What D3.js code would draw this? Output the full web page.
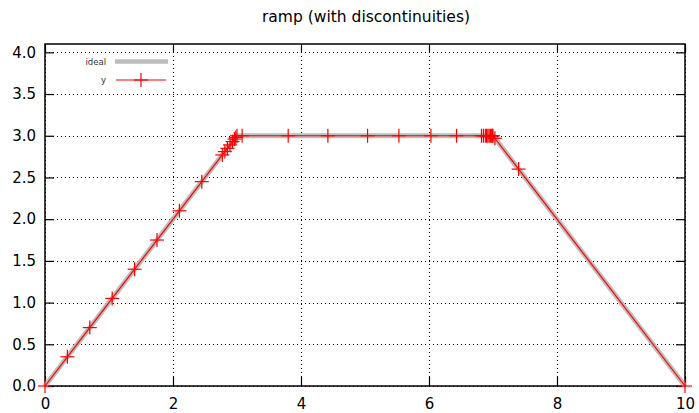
<!DOCTYPE html>
<html>
<head>
<meta charset="utf-8">
<script src="https://cdn.jsdelivr.net/npm/d3@7"></script>
<style>
  html, body { margin: 0; padding: 0; background: #fff; }
  svg { display: block; font-family: "DejaVu Sans", sans-serif; }
</style>
</head>
<body>
<svg id="chart" width="699" height="413"></svg>
<script>
// Sampled points of the ramp
const sampleX = [0, 0.35, 0.7, 1.05, 1.4, 1.75, 2.1, 2.45, 2.77, 2.81, 2.85, 2.89, 2.93, 2.96, 2.98, 3.0, 3.08,
  3.8, 4.42, 5.04, 5.53, 6.03, 6.43, 6.82, 6.85, 6.88, 6.9, 6.92, 6.94, 6.96, 6.98, 6.99, 7.0, 7.03, 7.4, 10];
const sampleY = [0, 0.35, 0.7, 1.05, 1.4, 1.75, 2.1, 2.45, 2.77, 2.81, 2.85, 2.89, 2.93, 2.96, 2.98, 3.0, 3.0,
  3.0, 3.0, 3.0, 3.0, 3.0, 3.0, 3.0, 3.0, 3.0, 3.0, 3.0, 3.0, 3.0, 3.0, 3.0, 3.0, 2.97, 2.6, 0];

// Ideal ramp corners
const idealX = [0, 3, 7, 10];
const idealY = [0, 3, 3, 0];

const xTicks = [0, 2, 4, 6, 8, 10];
const yTicks = [0, 0.5, 1.0, 1.5, 2.0, 2.5, 3.0, 3.5, 4.0];

const titleText = "ramp (with discontinuities)";
const legendLabels = ["ideal", "y"];

const svg = d3.select("#chart");
const L = 45, R = 685, T = 44, B = 386;

const x = d3.scaleLinear().domain([0, 10]).range([L, R]);
const y = d3.scaleLinear().domain([0, 4.1]).range([B, T]);

// Grid
const grid = svg.append("g").attr("stroke", "#000").attr("stroke-width", 1)
  .attr("stroke-dasharray", "1,3").attr("shape-rendering", "crispEdges");
xTicks.forEach(t => grid.append("line")
  .attr("x1", Math.round(x(t)) + 0.5).attr("x2", Math.round(x(t)) + 0.5)
  .attr("y1", T).attr("y2", B));
yTicks.forEach(t => grid.append("line")
  .attr("x1", L).attr("x2", R)
  .attr("y1", Math.round(y(t)) + 0.5).attr("y2", Math.round(y(t)) + 0.5));

// Axes with inward ticks (mirrored on top / right)
const fmtY = d3.format(".1f");
const axB = svg.append("g").attr("transform", `translate(0,${B})`)
  .call(d3.axisBottom(x).tickValues(xTicks).tickSize(-9).tickPadding(12).tickFormat(d3.format("d")));
const axL = svg.append("g").attr("transform", `translate(${L},0)`)
  .call(d3.axisLeft(y).tickValues(yTicks).tickSize(-9).tickPadding(9).tickFormat(fmtY));
const axT = svg.append("g").attr("transform", `translate(0,${T})`)
  .call(d3.axisTop(x).tickValues(xTicks).tickSize(-9).tickFormat(""));
const axR = svg.append("g").attr("transform", `translate(${R},0)`)
  .call(d3.axisRight(y).tickValues(yTicks).tickSize(-9).tickFormat(""));
[axB, axL, axT, axR].forEach(a => {
  a.select(".domain").remove();
  a.selectAll("line").attr("stroke", "#000").attr("stroke-width", 1.2);
  a.selectAll("text").attr("font-size", 15).attr("fill", "#000")
    .attr("font-family", "DejaVu Sans, sans-serif");
});

// Border
svg.append("rect").attr("x", L).attr("y", T).attr("width", R - L).attr("height", B - T)
  .attr("fill", "none").attr("stroke", "#000").attr("stroke-width", 1.5);

// Ideal ramp (thick grey)
const idealPts = idealX.map((v, i) => [v, idealY[i]]);
const line = d3.line().x(d => x(d[0])).y(d => y(d[1]));
svg.append("path").datum(idealPts).attr("d", line)
  .attr("fill", "none").attr("stroke", "#bdbdbd").attr("stroke-width", 5);

// Sampled series (red line with + markers)
const pts = sampleX.map((v, i) => [v, sampleY[i]]);
svg.append("path").datum(pts).attr("d", line)
  .attr("fill", "none").attr("stroke", "#ff0000").attr("stroke-width", 1.2);

const plus = (g, cx, cy, s) => {
  g.append("line").attr("x1", cx - s).attr("x2", cx + s).attr("y1", cy).attr("y2", cy);
  g.append("line").attr("x1", cx).attr("x2", cx).attr("y1", cy - s).attr("y2", cy + s);
};
const mk = svg.append("g").attr("stroke", "#ff0000").attr("stroke-width", 1.2);
pts.forEach(d => plus(mk, x(d[0]), y(d[1]), 7));

// Legend
const lg = svg.append("g").attr("font-size", 8.5).attr("fill", "#333");
lg.append("text").attr("x", 106).attr("y", 64.5).attr("text-anchor", "end").text(legendLabels[0]);
lg.append("line").attr("x1", 115).attr("x2", 168).attr("y1", 61.5).attr("y2", 61.5)
  .attr("stroke", "#bdbdbd").attr("stroke-width", 4.5);
lg.append("text").attr("x", 106).attr("y", 83).attr("text-anchor", "end").text(legendLabels[1]);
lg.append("line").attr("x1", 116).attr("x2", 166).attr("y1", 80).attr("y2", 80)
  .attr("stroke", "#ff0000").attr("stroke-width", 1.2);
const lm = svg.append("g").attr("stroke", "#ff0000").attr("stroke-width", 1.2);
plus(lm, 141, 80, 7);

// Title
svg.append("text").attr("x", 366).attr("y", 22).attr("text-anchor", "middle")
  .attr("font-size", 15.5).attr("fill", "#000").text(titleText);
</script>
</body>
</html>
